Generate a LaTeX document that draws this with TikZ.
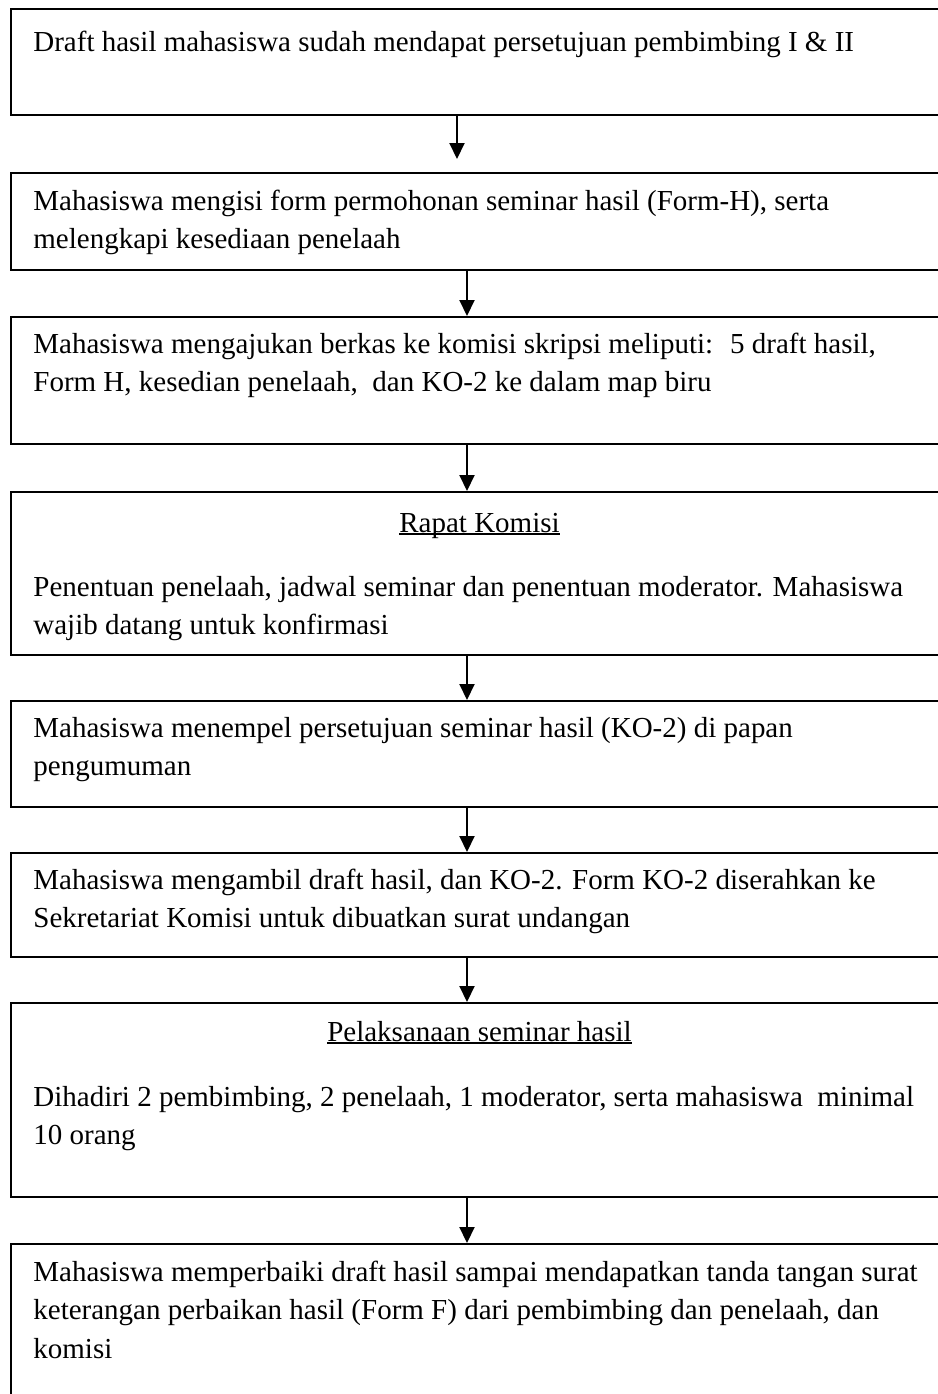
\documentclass[tikz,border=0pt]{standalone}
\usepackage{fontspec}
\setmainfont{Liberation Serif}
\usetikzlibrary{arrows.meta}
% underlined heading with a fixed rule just below the baseline
\newcommand\titleline[1]{\setbox0\hbox{#1}\rlap{\rule[-1.5pt]{\wd0}{1pt}}\box0}
\begin{document}
\begin{tikzpicture}[x=0.5pt,y=-0.5pt,
  stepbox/.style={draw, line width=1pt, anchor=north west, inner sep=0pt,
    minimum width=469.5pt, minimum height={0.5pt*#1}},
  body/.style={anchor=north west, inner sep=0pt, align=left,
    font=\fontsize{14.5pt}{19.25pt}\selectfont, yshift=13.475pt},
  heading/.style={anchor=base, inner sep=0pt,
    font=\fontsize{14.5pt}{19.25pt}\selectfont},
  flow/.style={line width=1pt, -{Triangle[length=8pt,width=7.5pt]}}]

\useasboundingbox (0,0) rectangle (938,1394);
\fill[white] (0,0) rectangle (938,1394);
\clip (0,0) rectangle (938,1394);

% process boxes
\node[stepbox=106] (b1) at (10,8) {};
\node[stepbox=97]  (b2) at (10,172) {};
\node[stepbox=127] (b3) at (10,316) {};
\node[stepbox=163] (b4) at (10,491) {};
\node[stepbox=106] (b5) at (10,700) {};
\node[stepbox=104] (b6) at (10,852) {};
\node[stepbox=194] (b7) at (10,1002) {};
\node[stepbox=200] (b8) at (10,1243) {};

% box texts (the strut fixes the first baseline)
\node[body] (t1) at (33,51) {\strut Draft hasil mahasiswa sudah mendapat persetujuan pembimbing I \& II};
\node[body] (t2) at (33,210) {\strut Mahasiswa mengisi form permohonan seminar hasil (Form-H), serta\\
  melengkapi kesediaan penelaah};
\node[body] (t3) at (33,353) {\strut Mahasiswa mengajukan berkas ke komisi skripsi meliputi:~ 5 draft hasil,\\
  Form H, kesedian penelaah,~ dan KO-2 ke dalam map biru};
\node[heading] (h4) at (479.5,532) {\titleline{Rapat Komisi}};
\node[body] (t4) at (33,596) {\strut Penentuan penelaah, jadwal seminar dan penentuan moderator. Mahasiswa\\
  wajib datang untuk konfirmasi};
\node[body] (t5) at (33,737) {\strut Mahasiswa menempel persetujuan seminar hasil (KO-2) di papan\\
  pengumuman};
\node[body] (t6) at (33,889) {\strut Mahasiswa mengambil draft hasil, dan KO-2. Form KO-2 diserahkan ke\\
  Sekretariat Komisi untuk dibuatkan surat undangan};
\node[heading] (h7) at (479.5,1041) {\titleline{Pelaksanaan seminar hasil}};
\node[body] (t7) at (33,1106) {\strut Dihadiri 2 pembimbing, 2 penelaah, 1 moderator, serta mahasiswa~ minimal\\
  10 orang};
\node[body] (t8) at (33,1281) {\strut Mahasiswa memperbaiki draft hasil sampai mendapatkan tanda tangan surat\\
  keterangan perbaikan hasil (Form F) dari pembimbing dan penelaah, dan\\
  komisi};

% connectors
\coordinate (ax1) at (457,0);
\coordinate (ax) at (467,0);
\draw[flow, shorten >=6.5pt] (b1.south -| ax1) -- (b2.north -| ax1);
\draw[flow] (b2.south -| ax) -- (b3.north -| ax);
\draw[flow] (b3.south -| ax) -- (b4.north -| ax);
\draw[flow] (b4.south -| ax) -- (b5.north -| ax);
\draw[flow] (b5.south -| ax) -- (b6.north -| ax);
\draw[flow] (b6.south -| ax) -- (b7.north -| ax);
\draw[flow] (b7.south -| ax) -- (b8.north -| ax);
\end{tikzpicture}
\end{document}
